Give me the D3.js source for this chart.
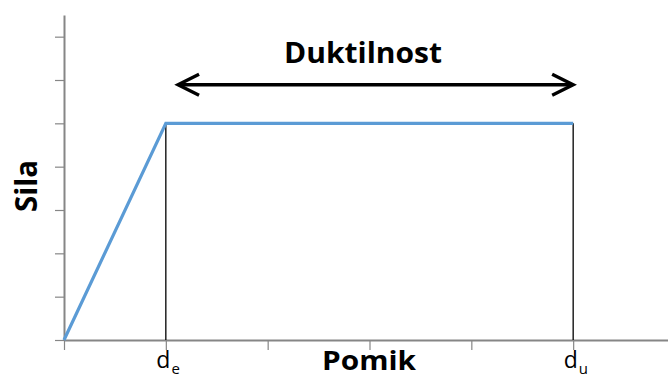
<!DOCTYPE html>
<html>
<head>
<meta charset="utf-8">
<script src="https://cdn.jsdelivr.net/npm/d3@7"></script>
<style>
  html, body { margin: 0; padding: 0; background: #fff; }
  svg { display: block; }
</style>
</head>
<body>
<svg id="chart" width="668" height="377"></svg>
<script>
// ---- data ----
const xTicks = [0, 1, 2, 3, 4, 5];
const yTicks = [0, 1, 2, 3, 4, 5, 6, 7];
const curveX = [0, 1, 5];          // Pomik
const curveY = [0, 5, 5];          // Sila
const markerX = [1, 5];            // d_e, d_u
const markerMain = ["d", "d"];
const markerSub = ["e", "u"];
const arrowX = [1.12, 5.0];
const arrowY = 5.89;
const titleText = "Duktilnost";
const xLabel = "Pomik";
const yLabel = "Sila";

// ---- layout ----
const svg = d3.select("#chart");
const font = "'Open Sans', 'DejaVu Sans', sans-serif";
const x = d3.scaleLinear().domain([0, 6]).range([64, 675]);
const y = d3.scaleLinear().domain([0, 7.5]).range([340, 15]);
const axisColor = "#868686";

// y axis
const gy = svg.append("g").attr("transform", `translate(${x(0)},0)`)
  .call(d3.axisLeft(y).tickValues(yTicks).tickSize(9).tickSizeOuter(0).tickFormat(""));
gy.select(".domain").attr("stroke", axisColor).attr("stroke-width", 2);
gy.selectAll(".tick line").attr("stroke", axisColor).attr("stroke-width", 1.2);

// x axis
const gx = svg.append("g").attr("transform", `translate(0,${y(0)})`)
  .call(d3.axisBottom(x).tickValues(xTicks).tickSize(10).tickSizeOuter(0).tickFormat(""));
gx.select(".domain").attr("stroke", axisColor).attr("stroke-width", 2);
gx.selectAll(".tick line").attr("stroke", axisColor).attr("stroke-width", 1.2);

// vertical marker lines
markerX.forEach((mx, i) => {
  svg.append("line")
    .attr("x1", x(mx)).attr("x2", x(mx))
    .attr("y1", y(curveY[i + 1])).attr("y2", y(0))
    .attr("stroke", "#000").attr("stroke-width", 1.3);
});

// curve
const pts = curveX.map((v, i) => [x(v), y(curveY[i])]);
svg.append("path")
  .attr("d", d3.line()(pts))
  .attr("fill", "none")
  .attr("stroke", "#5B9BD5")
  .attr("stroke-width", 3.2)
  .attr("stroke-linejoin", "miter");

// double arrow
const ax1 = x(arrowX[0]), ax2 = x(arrowX[1]), ay = y(arrowY);
const ag = svg.append("g").attr("stroke", "#000").attr("stroke-width", 3.4)
  .attr("fill", "none").attr("stroke-linecap", "butt").attr("stroke-linejoin", "miter");
ag.append("line").attr("x1", ax1 + 1).attr("x2", ax2 - 1).attr("y1", ay).attr("y2", ay);
ag.append("path").attr("d", `M${ax1 + 21},${ay - 10.5} L${ax1},${ay} L${ax1 + 21},${ay + 10.5}`);
ag.append("path").attr("d", `M${ax2 - 21},${ay - 10.5} L${ax2},${ay} L${ax2 - 21},${ay + 10.5}`);

// title
svg.append("text")
  .attr("x", 363).attr("y", 62.5)
  .attr("text-anchor", "middle")
  .attr("font-family", font).attr("font-weight", "bold").attr("font-size", 29)
  .attr("textLength", 158).attr("lengthAdjust", "spacingAndGlyphs")
  .text(titleText);

// x label
svg.append("text")
  .attr("x", 369).attr("y", 370)
  .attr("text-anchor", "middle")
  .attr("font-family", font).attr("font-weight", "bold").attr("font-size", 27)
  .attr("textLength", 94).attr("lengthAdjust", "spacingAndGlyphs")
  .text(xLabel);

// y label
svg.append("text")
  .attr("transform", "translate(36.5,186) rotate(-90)")
  .attr("text-anchor", "middle")
  .attr("font-family", font).attr("font-weight", "bold").attr("font-size", 30)
  .attr("textLength", 52).attr("lengthAdjust", "spacingAndGlyphs")
  .text(yLabel);

// d_e, d_u labels
markerX.forEach((mx, i) => {
  const t = svg.append("text")
    .attr("x", x(mx) - 9.5).attr("y", 368)
    .attr("font-family", font).attr("font-size", 23).attr("fill", "#000");
  t.append("tspan").text(markerMain[i]);
  t.append("tspan").attr("dy", 6).attr("dx", 1).attr("font-size", 15).text(markerSub[i]);
});
</script>
</body>
</html>
